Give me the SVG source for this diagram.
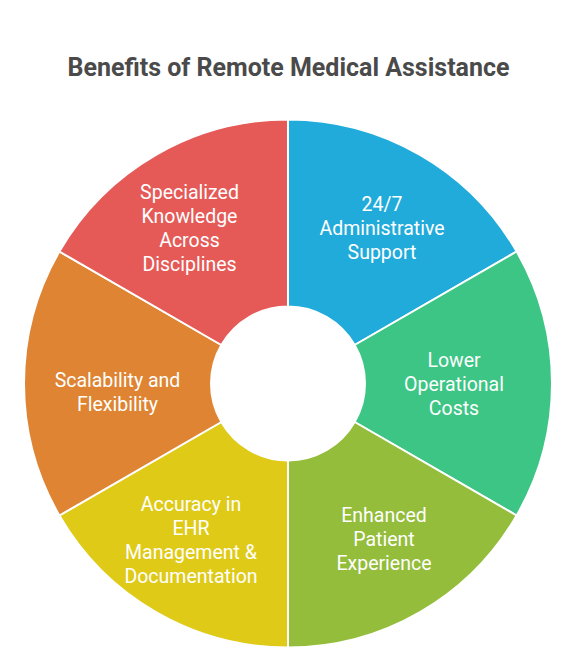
<svg xmlns="http://www.w3.org/2000/svg" width="577" height="648" viewBox="0 0 577 648">
<style>
.seg{stroke:#fff;stroke-width:2;stroke-linejoin:miter}
.lbl{font-family:Roboto,"Liberation Sans",sans-serif;font-size:19.5px;fill:#fff;text-anchor:middle}
.title{font-family:Roboto,"Liberation Sans",sans-serif;font-size:25px;font-weight:bold;fill:#4a4a4a;text-anchor:middle}
</style>
<rect width="577" height="648" fill="#fff"/>
<text class="title" x="288.5" y="76">Benefits of Remote Medical Assistance</text>
<g id="blue">
<path class="seg" fill="#21abda" d="M288 119.5 A264 264 0 0 1 516.63 251.5 L354.68 345 A77 77 0 0 0 288 306.5 Z"/>
<text class="lbl" x="382" y="211">24/7</text>
<text class="lbl" x="382" y="235">Administrative</text>
<text class="lbl" x="382" y="259">Support</text>
</g>
<g id="green">
<path class="seg" fill="#3cc584" d="M516.63 251.5 A264 264 0 0 1 516.63 515.5 L354.68 422 A77 77 0 0 0 354.68 345 Z"/>
<text class="lbl" x="454" y="367">Lower</text>
<text class="lbl" x="454" y="391">Operational</text>
<text class="lbl" x="454" y="415">Costs</text>
</g>
<g id="olive">
<path class="seg" fill="#93bd3b" d="M516.63 515.5 A264 264 0 0 1 288 647.5 L288 460.5 A77 77 0 0 0 354.68 422 Z"/>
<text class="lbl" x="384" y="522">Enhanced</text>
<text class="lbl" x="384" y="546">Patient</text>
<text class="lbl" x="384" y="570">Experience</text>
</g>
<g id="yellow">
<path class="seg" fill="#dfca18" d="M288 647.5 A264 264 0 0 1 59.37 515.5 L221.32 422 A77 77 0 0 0 288 460.5 Z"/>
<text class="lbl" x="191" y="511">Accuracy in</text>
<text class="lbl" x="191" y="535">EHR</text>
<text class="lbl" x="191" y="559">Management &amp;</text>
<text class="lbl" x="191" y="583">Documentation</text>
</g>
<g id="orange">
<path class="seg" fill="#de8432" d="M59.37 515.5 A264 264 0 0 1 59.37 251.5 L221.32 345 A77 77 0 0 0 221.32 422 Z"/>
<text class="lbl" x="117.5" y="387">Scalability and</text>
<text class="lbl" x="117.5" y="411">Flexibility</text>
</g>
<g id="red">
<path class="seg" fill="#e55a57" d="M59.37 251.5 A264 264 0 0 1 288 119.5 L288 306.5 A77 77 0 0 0 221.32 345 Z"/>
<text class="lbl" x="189.5" y="199">Specialized</text>
<text class="lbl" x="189.5" y="223">Knowledge</text>
<text class="lbl" x="189.5" y="247">Across</text>
<text class="lbl" x="189.5" y="271">Disciplines</text>
</g>
<g id="connectors"></g>
</svg>
